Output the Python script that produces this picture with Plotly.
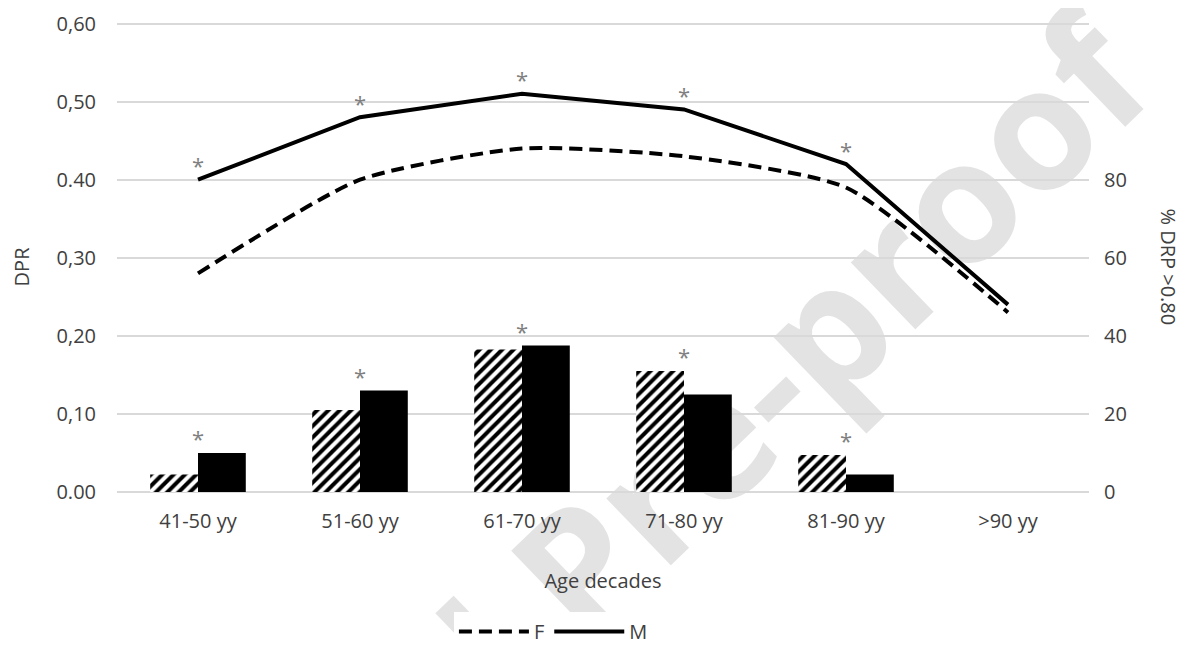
import plotly.graph_objects as go

categories = ["41-50 yy", "51-60 yy", "61-70 yy", "71-80 yy", "81-90 yy", ">90 yy"]
dpr_F = [0.28, 0.40, 0.44, 0.43, 0.39, 0.23]
dpr_M = [0.40, 0.48, 0.51, 0.49, 0.42, 0.24]
pct_F = [4.5, 21, 36.5, 31, 9.5, None]
pct_M = [10, 26, 37.5, 25, 4.5, None]
sig_line = ["*", "*", "*", "*", "*", ""]
sig_bar = ["*", "*", "*", "*", "*", ""]
left_tickvals = [0, 0.1, 0.2, 0.3, 0.4, 0.5, 0.6]
left_ticktext = ["0.00", "0,10", "0,20", "0,30", "0.40", "0,50", "0,60"]
right_tickvals = [0, 20, 40, 60, 80]

FONT = "Open Sans"
TXT = "#404040"
GRID = "#d9d9d9"
Y_TOP = 0.602
Y2_TOP = Y_TOP * 200

fig = go.Figure()

fig.add_trace(go.Bar(
    x=categories, y=pct_F, yaxis="y2", name="F %", showlegend=False,
    marker=dict(color="white", line=dict(width=0),
                pattern=dict(shape="/", fgcolor="black", bgcolor="white",
                             fgopacity=1, size=8, solidity=0.5)),
))
fig.add_trace(go.Bar(
    x=categories, y=pct_M, yaxis="y2", name="M %", showlegend=False,
    marker=dict(color="black", line=dict(width=0)),
))
bar_top = [max(a, b) if a is not None else 0 for a, b in zip(pct_F, pct_M)]
fig.add_trace(go.Scatter(
    x=categories, y=bar_top, yaxis="y2", mode="text", text=sig_bar,
    textposition="top center", showlegend=False,
    textfont=dict(family=FONT, size=22, color="#808080"),
))

fig.add_trace(go.Scatter(
    x=categories, y=dpr_F, name="F", mode="lines",
    line=dict(color="black", width=4, dash="13px,7px", shape="spline", smoothing=0.6),
))
fig.add_trace(go.Scatter(
    x=categories, y=dpr_M, name="M", mode="lines",
    line=dict(color="black", width=4),
))
fig.add_trace(go.Scatter(
    x=categories, y=dpr_M, mode="text", text=sig_line,
    textposition="top center", showlegend=False,
    textfont=dict(family=FONT, size=22, color="#808080"),
))

fig.update_layout(
    width=1185, height=645,
    margin=dict(l=109, r=104, t=14, b=161, autoexpand=False),
    paper_bgcolor="white", plot_bgcolor="white",
    font=dict(family=FONT, size=20, color=TXT),
    barmode="group", bargap=0.41, bargroupgap=0,
    xaxis=dict(type="category", showgrid=False, showline=False, ticks="",
               ticklabelstandoff=15, automargin=False,
               title=dict(text="Age decades", font=dict(size=20), standoff=40)),
    yaxis=dict(range=[0, Y_TOP], tickvals=left_tickvals, ticktext=left_ticktext,
               showgrid=True, gridcolor=GRID, gridwidth=1.5, zeroline=True,
               zerolinecolor=GRID, zerolinewidth=2, showline=False, ticks="",
               ticklabelstandoff=20, automargin=False, ticklabeloverflow="allow"),
    yaxis2=dict(range=[0, Y2_TOP], tickvals=right_tickvals, overlaying="y", side="right",
                showgrid=False, zeroline=False, showline=False, ticks="",
                ticklabelstandoff=14, automargin=False),
    legend=dict(orientation="h", x=0.449, xanchor="center", y=-0.297, yanchor="middle",
                itemwidth=70, font=dict(size=20), traceorder="normal"),
    showlegend=True,
    annotations=[
        dict(text="DPR", xref="paper", yref="paper", x=0, y=0.48, xshift=-96,
             xanchor="center", yanchor="middle",
             textangle=-90, showarrow=False, font=dict(size=20, color=TXT)),
        dict(text="% DRP >0.80", xref="paper", yref="paper", x=1, y=0.48, xshift=80,
             xanchor="center", yanchor="middle",
             textangle=90, showarrow=False, font=dict(size=20, color=TXT)),
    ],
    shapes=[
        dict(type="line", xref="paper", yref="paper", x0=0.474, y0=-0.148, x1=0.514, y1=-0.148,
             layer="below", line=dict(width=0, color="rgba(0,0,0,0)"),
             label=dict(text="Journal Pre-proof", textangle=-44, textposition="middle",
                        xanchor="center", yanchor="middle",
                        font=dict(family=FONT, size=170, color="#e3e3e3", weight=700))),
    ],
)

fig.write_html("out.html")
